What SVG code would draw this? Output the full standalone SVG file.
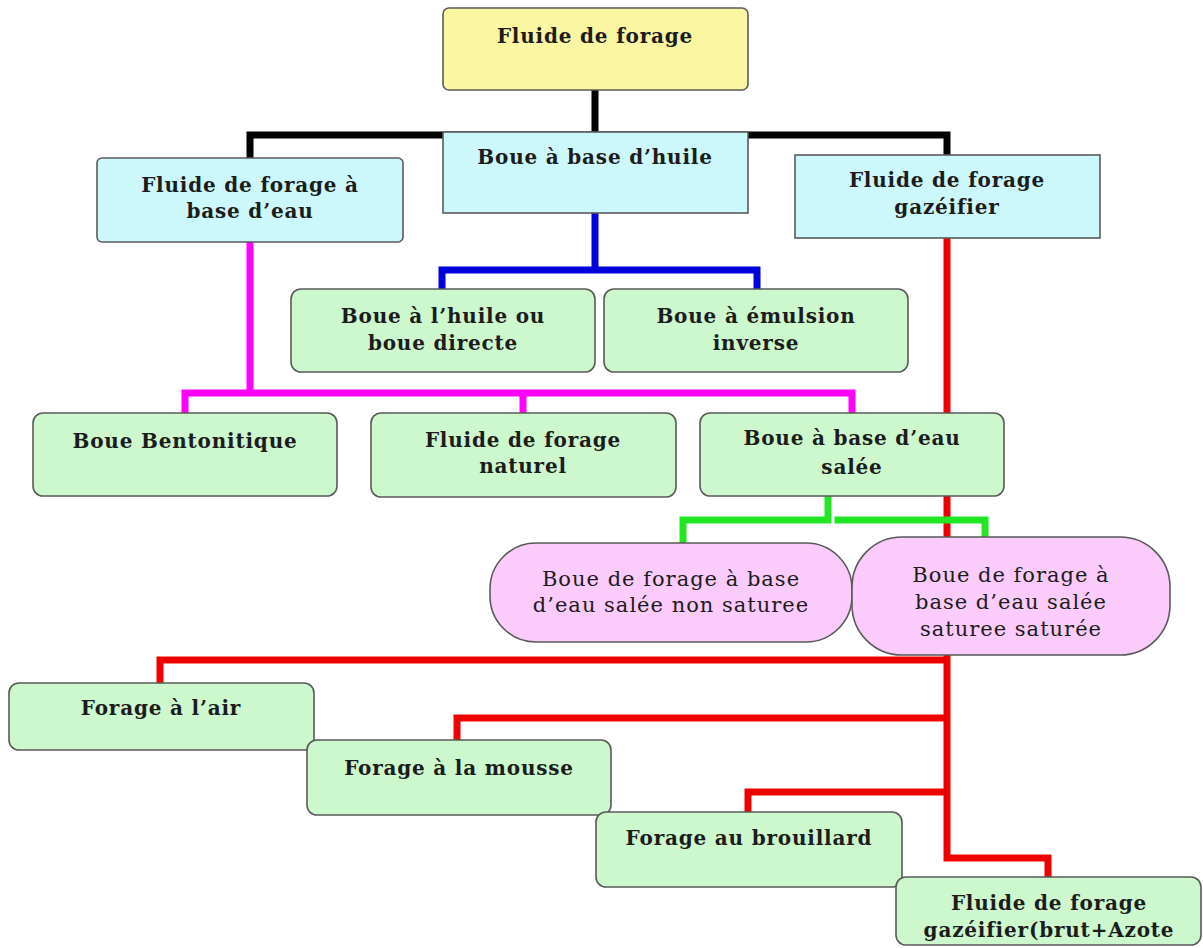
<svg xmlns="http://www.w3.org/2000/svg" width="1203" height="948" viewBox="0 0 1203 948">
<style>
.box{stroke:#5a5a5a;stroke-width:1.6}
.yel{fill:#fbf6a2}
.cy{fill:#ccf8fb}
.gr{fill:#cdf8cd}
.pk{fill:#fbcbfb}
.t{font-family:"DejaVu Serif","Liberation Serif",serif;font-weight:bold;font-size:20px;letter-spacing:0.8px;fill:#1c1c1c;text-anchor:middle}
.tp{font-family:"DejaVu Serif","Liberation Serif",serif;font-size:21px;letter-spacing:1px;fill:#1c1c1c;text-anchor:middle}
.c{fill:none;stroke-width:7;stroke-linejoin:miter;stroke-linecap:square}
</style>
<rect width="1203" height="948" fill="#ffffff"/>
<g id="connectors">
<path class="c" stroke="#000" d="M595 90 V135 M250 158 V135 H947 V155"/>
<path class="c" stroke="#0000dd" d="M595 213 V270 M442 289 V270 H757 V289"/>
<path class="c" stroke="#ff00ff" d="M250 242 V393 M185 413 V393 H852 V413 M523 393 V413"/>
<path class="c" stroke="#ee0000" d="M947 238 V858 H1048 V877 M947 660 H160 V683 M947 718 H457 V740 M947 792 H748 V812"/>
<path class="c" stroke="#22e622" stroke-width="6" stroke-linecap="butt" d="M828 496 V520 H683 V543 M838 520 H985 V537"/>
</g>
<g id="n-root"><rect class="box yel" x="443" y="8" width="305" height="82" rx="6"/><text class="t" x="595" y="43">Fluide de forage</text></g>
<g id="n-huile"><rect class="box cy" x="443" y="132" width="305" height="81"/><text class="t" x="595" y="164">Boue à base d’huile</text></g>
<g id="n-eau"><rect class="box cy" x="97" y="158" width="306" height="84" rx="5"/><text class="t" x="250" y="192">Fluide de forage à</text><text class="t" x="250" y="218">base d’eau</text></g>
<g id="n-gaz"><rect class="box cy" x="795" y="155" width="305" height="83"/><text class="t" x="947" y="187">Fluide de forage</text><text class="t" x="947" y="214">gazéifier</text></g>
<g id="n-directe"><rect class="box gr" x="291" y="289" width="304" height="83" rx="10"/><text class="t" x="443" y="323">Boue à l’huile ou</text><text class="t" x="443" y="350">boue directe</text></g>
<g id="n-inverse"><rect class="box gr" x="604" y="289" width="304" height="83" rx="10"/><text class="t" x="756" y="323">Boue à émulsion</text><text class="t" x="756" y="350">inverse</text></g>
<g id="n-bento"><rect class="box gr" x="33" y="413" width="304" height="83" rx="10"/><text class="t" x="185" y="448">Boue Bentonitique</text></g>
<g id="n-naturel"><rect class="box gr" x="371" y="413" width="305" height="84" rx="10"/><text class="t" x="523" y="447">Fluide de forage</text><text class="t" x="523" y="473">naturel</text></g>
<g id="n-salee"><rect class="box gr" x="700" y="413" width="304" height="83" rx="10"/><text class="t" x="852" y="445">Boue à base d’eau</text><text class="t" x="852" y="474">salée</text></g>
<g id="n-nonsat"><rect class="box pk" x="490" y="543" width="362" height="99" rx="46"/><text class="tp" x="671" y="586">Boue de forage à base</text><text class="tp" x="671" y="612">d’eau salée non saturee</text></g>
<g id="n-sat"><rect class="box pk" x="852" y="537" width="318" height="118" rx="50"/><text class="tp" x="1011" y="582">Boue de forage à</text><text class="tp" x="1011" y="609">base d’eau salée</text><text class="tp" x="1011" y="636">saturee saturée</text></g>
<g id="n-air"><rect class="box gr" x="9" y="683" width="305" height="67" rx="10"/><text class="t" x="161" y="715">Forage à l’air</text></g>
<g id="n-mousse"><rect class="box gr" x="307" y="740" width="304" height="75" rx="10"/><text class="t" x="459" y="775">Forage à la mousse</text></g>
<g id="n-brouillard"><rect class="box gr" x="596" y="812" width="306" height="75" rx="10"/><text class="t" x="749" y="845">Forage au brouillard</text></g>
<g id="n-azote"><rect class="box gr" x="896" y="877" width="305" height="68" rx="10"/><text class="t" x="1049" y="910">Fluide de forage</text><text class="t" x="1049" y="937">gazéifier(brut+Azote</text></g>
</svg>
